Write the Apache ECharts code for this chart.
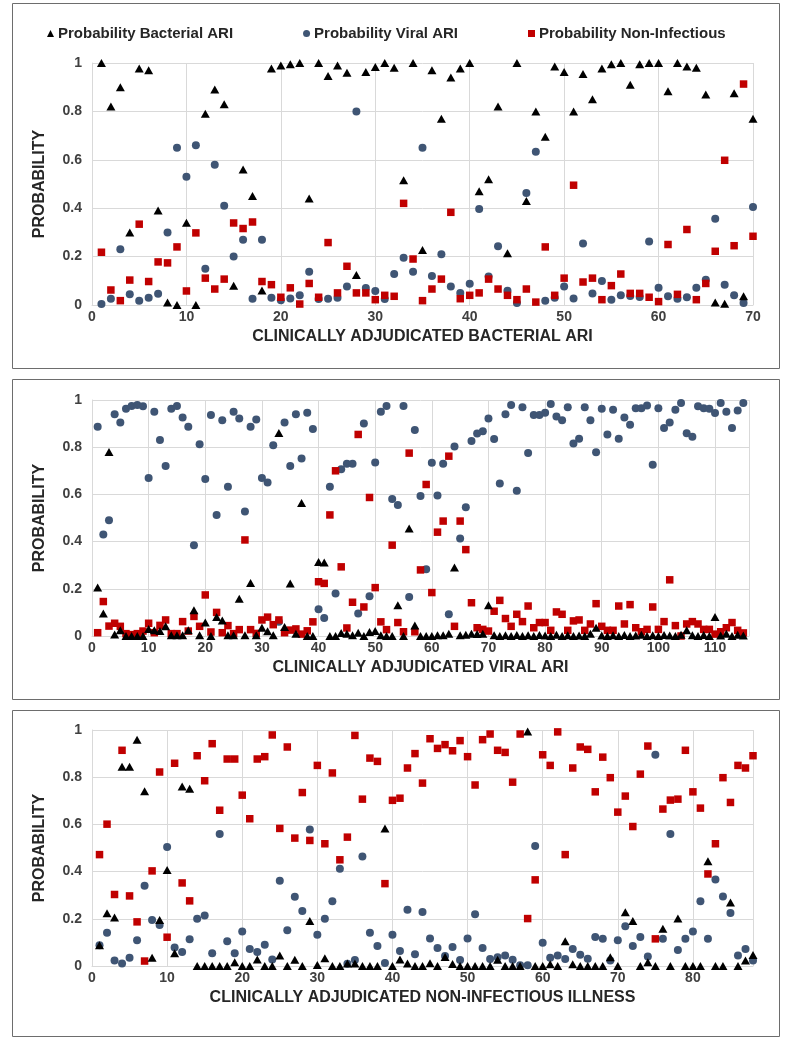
<!DOCTYPE html>
<html><head><meta charset="utf-8">
<script src="https://cdn.jsdelivr.net/npm/echarts@6/dist/echarts.min.js"></script>
<style>html,body{margin:0;padding:0;background:#fff}#c{width:792px;height:1049px}</style>
</head><body><div id="c"></div>
<script>
// ---------- DATA ----------
const seriesNames = ['Probability Bacterial ARI', 'Probability Viral ARI', 'Probability Non-Infectious'];
const xTitles = ['CLINICALLY ADJUDICATED BACTERIAL ARI', 'CLINICALLY ADJUDICATED VIRAL ARI', 'CLINICALLY ADJUDICATED NON-INFECTIOUS ILLNESS'];
const yTitle = 'PROBABILITY';
const xMax = [70, 116, 88];

// Panel 1: bacterial ARI patients (1..70)
const bactP1 = [1.0,0.82,0.90,0.30,0.977,0.97,0.39,0.01,0.0,0.34,
 0.0,0.79,0.89,0.83,0.08,0.56,0.45,0.06,0.977,0.99,
 0.995,1.0,0.44,1.0,0.946,0.99,0.96,0.124,0.963,0.983,
 1.0,0.98,0.516,1.0,0.227,0.97,0.77,0.94,0.977,1.0,
 0.47,0.52,0.82,0.214,1.0,0.43,0.80,0.695,0.986,0.963,
 0.80,0.955,0.85,0.977,0.995,1.0,0.91,0.995,1.0,1.0,
 0.883,1.0,0.986,0.98,0.87,0.01,0.005,0.875,0.036,0.77];
const viralP1 = [0.004,0.026,0.23,0.044,0.018,0.03,0.047,0.30,0.65,0.53,
 0.66,0.15,0.58,0.41,0.20,0.27,0.026,0.27,0.03,0.02,
 0.027,0.04,0.137,0.025,0.026,0.03,0.076,0.80,0.07,0.058,
 0.025,0.128,0.195,0.137,0.65,0.12,0.21,0.076,0.05,0.088,
 0.397,0.118,0.243,0.059,0.008,0.463,0.633,0.018,0.03,0.076,
 0.027,0.254,0.048,0.099,0.022,0.04,0.037,0.033,0.262,0.071,
 0.036,0.026,0.032,0.071,0.104,0.356,0.084,0.04,0.008,0.405];
const nonP1 = [0.218,0.062,0.018,0.103,0.334,0.097,0.178,0.174,0.24,0.058,
 0.298,0.111,0.066,0.107,0.339,0.316,0.343,0.097,0.084,0.032,
 0.071,0.004,0.089,0.032,0.258,0.05,0.16,0.05,0.05,0.022,
 0.04,0.036,0.42,0.19,0.018,0.066,0.107,0.383,0.026,0.04,
 0.05,0.107,0.066,0.04,0.022,0.066,0.012,0.24,0.04,0.111,
 0.495,0.095,0.111,0.022,0.08,0.128,0.048,0.048,0.032,0.014,
 0.25,0.044,0.312,0.022,0.089,0.222,0.598,0.245,0.913,0.284];

// Panel 2: viral ARI patients (1..115)
const bactP2 = [0.205,0.095,0.78,0.006,0.024,0,0,0,0,0.03,
 0.024,0.021,0.041,0.003,0.003,0.003,0.024,0.109,0.003,0.057,
 0,0.08,0.066,0.003,0.003,0.158,0.003,0.225,0.003,0.035,
 0.02,0.003,0.86,0.038,0.222,0.01,0.564,0,0,0.314,
 0.311,0,0,0.013,0.01,0.003,0.014,0,0.017,0.021,
 0.003,0,0,0.13,0,0.455,0.044,0,0,0,
 0.003,0.003,0.01,0.29,0.003,0.005,0.01,0.008,0.01,0.13,
 0.003,0,0.003,0,0.004,0,0.003,0,0.004,0.002,
 0,0.005,0,0.003,0,0.002,0,0.01,0.035,0.002,
 0,0.003,0,0.004,0,0.002,0.005,0,0.003,0,
 0.004,0.002,0,0.005,0.024,0.003,0,0.004,0,0.08,
 0.002,0.01,0,0.005,0.002];
const viralP2 = [0.887,0.43,0.49,0.94,0.905,0.963,0.975,0.979,0.973,0.67,
 0.95,0.83,0.72,0.963,0.975,0.926,0.887,0.385,0.813,0.665,
 0.936,0.513,0.914,0.632,0.95,0.922,0.528,0.887,0.917,0.669,
 0.65,0.808,0.06,0.905,0.72,0.94,0.752,0.946,0.877,0.113,
 0.076,0.632,0.18,0.707,0.73,0.73,0.095,0.9,0.168,0.735,
 0.95,0.975,0.58,0.555,0.975,0.165,0.873,0.593,0.283,0.734,
 0.595,0.73,0.092,0.803,0.413,0.546,0.826,0.858,0.868,0.922,
 0.835,0.646,0.94,0.979,0.615,0.969,0.775,0.936,0.936,0.946,
 0.983,0.93,0.914,0.969,0.816,0.836,0.969,0.914,0.779,0.963,
 0.854,0.959,0.836,0.926,0.895,0.965,0.965,0.977,0.726,0.965,
 0.881,0.905,0.959,0.987,0.859,0.844,0.973,0.965,0.963,0.945,
 0.987,0.95,0.881,0.955,0.987];
const nonP2 = [0.014,0.146,0.042,0.054,0.041,0.01,0.006,0.01,0.021,0.054,
 0.014,0.045,0.068,0.01,0.01,0.061,0.021,0.083,0.041,0.174,
 0.017,0.1,0.014,0.044,0.01,0.027,0.407,0.027,0.011,0.068,
 0.08,0.048,0.068,0.014,0.025,0.03,0.008,0.022,0.06,0.23,
 0.223,0.513,0.70,0.293,0.034,0.143,0.854,0.123,0.587,0.205,
 0.06,0.027,0.385,0.057,0.018,0.775,0.018,0.28,0.642,0.184,
 0.44,0.487,0.762,0.041,0.487,0.366,0.141,0.035,0.028,0.021,
 0.105,0.151,0.074,0.041,0.092,0.061,0.127,0.035,0.057,0.057,
 0.024,0.102,0.092,0.024,0.064,0.068,0.024,0.051,0.137,0.041,
 0.024,0.024,0.127,0.051,0.133,0.035,0.018,0.028,0.123,0.028,
 0.061,0.238,0.044,0.0,0.051,0.061,0.051,0.028,0.028,0.008,
 0.018,0.035,0.057,0.024,0.013];

// Panel 3: non-infectious illness patients (1..88)
const bactP3 = [0.088,0.223,0.205,0.844,0.844,0.959,0.74,0.035,0.195,0.407,
 0.054,0.761,0.751,0,0,0,0,0,0.016,0,
 0,0.028,0,0,0.045,0,0.027,0,0.191,0.004,
 0.033,0,0,0.011,0.011,0,0,0,0.583,0,
 0.028,0.011,0,0,0.012,0,0.038,0.008,0,0,
 0,0,0,0.027,0,0,0,0.994,0,0,
 0.007,0,0.105,0.007,0,0,0,0,0.037,0,
 0.228,0.191,0,0.016,0,0.158,0,0.201,0,0,
 0,0.444,0,0,0.269,0,0.023,0.047];
const viralP3 = [0.088,0.141,0.023,0.011,0.035,0.109,0.34,0.195,0.174,0.504,
 0.078,0.059,0.113,0.2,0.214,0.054,0.559,0.105,0.054,0.146,
 0.072,0.059,0.09,0.028,0.361,0.151,0.293,0.233,0.578,0.132,
 0.2,0.274,0.412,0.01,0.025,0.464,0.141,0.085,0.013,0.132,
 0.064,0.238,0.05,0.229,0.117,0.076,0.042,0.081,0.025,0.117,
 0.219,0.076,0.03,0.037,0.045,0.027,0.003,0.003,0.509,0.099,
 0.035,0.044,0.03,0.072,0.048,0.031,0.123,0.115,0.023,0.109,
 0.168,0.085,0.123,0.04,0.895,0.115,0.559,0.068,0.115,0.146,
 0.274,0.115,0.366,0.294,0.225,0.044,0.072,0.023];
const nonP3 = [0.472,0.601,0.303,0.914,0.297,0.187,0.021,0.403,0.822,0.122,
 0.859,0.352,0.276,0.891,0.785,0.942,0.66,0.877,0.877,0.724,
 0.624,0.877,0.887,0.979,0.583,0.928,0.542,0.735,0.532,0.85,
 0.518,0.818,0.45,0.546,0.977,0.707,0.881,0.867,0.349,0.702,
 0.711,0.839,0.9,0.775,0.963,0.922,0.938,0.912,0.955,0.887,
 0.767,0.959,0.983,0.914,0.905,0.779,0.983,0.201,0.365,0.895,
 0.85,0.992,0.472,0.839,0.928,0.918,0.738,0.885,0.798,0.652,
 0.72,0.591,0.813,0.932,0.115,0.665,0.703,0.707,0.914,0.738,
 0.669,0.39,0.518,0.798,0.693,0.85,0.839,0.891];

// ---------- CHART ----------
const FONT = '"Liberation Sans", Arial, sans-serif';
const panelData = [[bactP1, viralP1, nonP1], [bactP2, viralP2, nonP2], [bactP3, viralP3, nonP3]];
const grids = [
  {left: 92, top: 63, width: 661, height: 242},
  {left: 92, top: 400, width: 657, height: 236},
  {left: 92, top: 730, width: 661, height: 236}
];
const boxes = [[12.5, 3.5, 767, 365], [12.5, 379.5, 767, 320], [12.5, 710.5, 767, 326]];
const styles = [
  {symbol: 'triangle', symbolSize: [9, 8], color: '#000000', z: 5},
  {symbol: 'circle', symbolSize: 8, color: '#3f5574', z: 3},
  {symbol: 'rect', symbolSize: 7.5, color: '#c00000', z: 4}
];
const gridColor = '#d9d9d9';
const series = [];
panelData.forEach((arrs, p) => {
  arrs.forEach((vals, s) => {
    series.push({
      type: 'scatter', name: seriesNames[s], xAxisIndex: p, yAxisIndex: p,
      symbol: styles[s].symbol, symbolSize: styles[s].symbolSize, z: styles[s].z,
      itemStyle: {color: styles[s].color, opacity: 1},
      data: vals.map((v, i) => [i + 1, v]),
      animation: false
    });
  });
});
const option = {
  animation: false,
  textStyle: {fontFamily: FONT},
  grid: grids,
  legend: {
    data: seriesNames.map(n => ({name: n})),
    top: 21, left: 42, itemGap: 70, itemWidth: 7, itemHeight: 7,
    textStyle: {fontFamily: FONT, fontWeight: 'bold', fontSize: 15, color: '#262626', padding: [0, 0, 0, -1]}
  },
  xAxis: grids.map((g, p) => ({
    type: 'value', gridIndex: p, min: 0, max: xMax[p], interval: 10,
    axisLine: {show: true, lineStyle: {color: gridColor}},
    axisTick: {show: false},
    splitLine: {show: true, lineStyle: {color: gridColor, width: 1}},
    axisLabel: {fontFamily: FONT, fontWeight: 'bold', fontSize: 14, color: '#404040', margin: 5,
      showMaxLabel: xMax[p] % 10 === 0},
    name: xTitles[p], nameLocation: 'middle', nameGap: 24,
    nameTextStyle: {fontFamily: FONT, fontWeight: 'bold', fontSize: 16, color: '#262626'}
  })),
  yAxis: grids.map((g, p) => ({
    type: 'value', gridIndex: p, min: 0, max: 1, interval: 0.2,
    axisLine: {show: true, lineStyle: {color: gridColor}},
    axisTick: {show: false},
    splitLine: {show: true, lineStyle: {color: gridColor, width: 1}},
    axisLabel: {fontFamily: FONT, fontWeight: 'bold', fontSize: 14, color: '#404040', margin: 10},
    name: yTitle, nameLocation: 'middle', nameGap: 44, nameRotate: 90,
    nameTextStyle: {fontFamily: FONT, fontWeight: 'bold', fontSize: 16, color: '#262626'}
  })),
  graphic: boxes.map(b => ({
    type: 'rect', silent: true, z: 0,
    shape: {x: b[0], y: b[1], width: b[2], height: b[3]},
    style: {fill: 'none', stroke: '#6d6d6d', lineWidth: 1}
  })),
  series: series
};
const chart = echarts.init(document.getElementById('c'), null, {renderer: 'canvas'});
chart.setOption(option);
</script>
</body></html>
